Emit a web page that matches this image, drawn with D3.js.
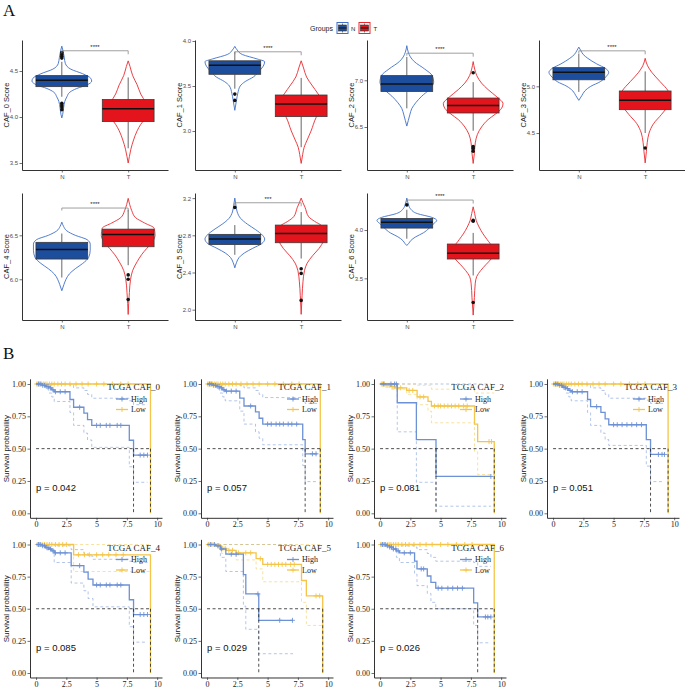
<!DOCTYPE html>
<html><head><meta charset="utf-8">
<script src="https://cdn.jsdelivr.net/npm/d3@7"></script>
<style>body{margin:0;background:#fff}svg{display:block}</style>
</head><body><svg id="c" width="685" height="690"></svg>
<script>
// ---------------- DATA: panel A ----------------
const groupNames = ["N", "T"];
const cafLabels = ["CAF_0", "CAF_1", "CAF_2", "CAF_3", "CAF_4", "CAF_5", "CAF_6"];
const sigMarks = ["****", "****", "****", "****", "****", "***", "****"];
const bracketLevels = [4.72, 3.88, 7.29, 5.38, 6.81, 3.15, 4.31];
const scoreTicks = [[3.5, 4.0, 4.5], [3.0, 3.5, 4.0], [6.5, 7.0], [4.5, 5.0], [6.0, 6.5], [2.0, 2.4, 2.8, 3.2], [3.5, 4.0]];
const scoreLimits = [[3.424, 4.837], [2.567, 4.011], [6.040, 7.431], [4.104, 5.496], [5.537, 6.981], [1.889, 3.255], [3.069, 4.383]];
// [lower whisker, Q1, median, Q3, upper whisker]
const boxStatsN = [[4.22, 4.33, 4.40, 4.45, 4.60], [3.47, 3.63, 3.73, 3.78, 3.88], [6.70, 6.88, 6.96, 7.05, 7.25], [4.94, 5.07, 5.15, 5.20, 5.35], [6.02, 6.23, 6.34, 6.42, 6.52], [2.59, 2.70, 2.76, 2.81, 2.91], [3.91, 4.02, 4.08, 4.12, 4.21]];
const boxStatsT = [[3.66, 3.95, 4.09, 4.19, 4.43], [2.82, 3.16, 3.30, 3.40, 3.59], [6.46, 6.65, 6.73, 6.81, 6.98], [4.50, 4.75, 4.85, 4.95, 5.16], [6.16, 6.37, 6.51, 6.57, 6.79], [2.55, 2.72, 2.82, 2.91, 3.05], [3.53, 3.70, 3.76, 3.855, 3.97]];
const outliersN = [[4.64, 4.66, 4.68, 4.70, 4.15, 4.13, 4.11, 4.08], [3.41, 3.34], [], [], [], [3.10], [4.26]];
const outliersT = [[], [], [7.08, 6.29, 6.27, 6.24], [4.34], [6.05, 6.00, 5.77], [2.44, 2.39, 2.10], [4.10, 4.09, 3.25]];
// violin profiles: [value, relative density]
const violinN = [
  [[4.77,0],[4.72,0.04],[4.65,0.08],[4.58,0.12],[4.52,0.3],[4.47,0.7],[4.42,0.97],[4.39,1.0],[4.35,0.85],[4.31,0.5],[4.27,0.27],[4.22,0.17],[4.17,0.1],[4.1,0.06],[4.03,0.03],[3.99,0]],
  [[3.94,0],[3.9,0.08],[3.85,0.25],[3.8,0.75],[3.77,1.0],[3.72,0.95],[3.66,0.8],[3.6,0.62],[3.55,0.35],[3.5,0.18],[3.42,0.1],[3.35,0.06],[3.23,0]],
  [[7.37,0],[7.3,0.05],[7.25,0.12],[7.2,0.25],[7.12,0.6],[7.05,0.85],[6.98,0.9],[6.9,0.75],[6.83,0.5],[6.76,0.3],[6.7,0.17],[6.63,0.1],[6.57,0.05],[6.51,0]],
  [[5.42,0],[5.38,0.07],[5.34,0.15],[5.3,0.3],[5.24,0.6],[5.19,0.9],[5.15,1.0],[5.1,0.9],[5.05,0.72],[5.0,0.4],[4.95,0.2],[4.9,0.1],[4.85,0]],
  [[6.65,0],[6.6,0.06],[6.55,0.17],[6.5,0.45],[6.45,0.85],[6.4,0.95],[6.33,0.95],[6.25,0.9],[6.18,0.7],[6.12,0.45],[6.06,0.25],[6.0,0.14],[5.94,0.07],[5.87,0]],
  [[3.2,0],[3.12,0.04],[3.05,0.08],[2.98,0.2],[2.92,0.42],[2.86,0.7],[2.8,0.93],[2.76,1.0],[2.71,0.9],[2.66,0.6],[2.61,0.32],[2.56,0.14],[2.51,0.06],[2.45,0]],
  [[4.33,0],[4.27,0.05],[4.22,0.12],[4.17,0.35],[4.13,0.85],[4.1,1.0],[4.06,0.88],[4.02,0.75],[3.97,0.55],[3.93,0.3],[3.89,0.13],[3.86,0.06],[3.84,0]]
];
const violinT = [
  [[4.61,0],[4.55,0.06],[4.45,0.15],[4.35,0.3],[4.25,0.42],[4.15,0.6],[4.07,0.7],[4.0,0.6],[3.92,0.42],[3.85,0.3],[3.75,0.18],[3.65,0.09],[3.57,0.04],[3.5,0]],
  [[3.78,0],[3.7,0.08],[3.6,0.18],[3.5,0.38],[3.42,0.55],[3.33,0.7],[3.25,0.68],[3.15,0.5],[3.0,0.33],[2.9,0.2],[2.82,0.1],[2.74,0.05],[2.64,0]],
  [[7.2,0],[7.12,0.05],[7.05,0.12],[6.97,0.28],[6.9,0.5],[6.82,0.8],[6.75,1.0],[6.7,0.95],[6.64,0.75],[6.58,0.5],[6.5,0.28],[6.42,0.14],[6.33,0.07],[6.22,0.04],[6.11,0]],
  [[5.3,0],[5.22,0.08],[5.15,0.22],[5.05,0.5],[4.95,0.77],[4.87,0.85],[4.8,0.78],[4.7,0.55],[4.6,0.28],[4.5,0.13],[4.4,0.07],[4.3,0.04],[4.18,0]],
  [[6.92,0],[6.85,0.05],[6.78,0.12],[6.7,0.25],[6.64,0.55],[6.58,0.87],[6.5,0.9],[6.42,0.8],[6.35,0.62],[6.28,0.45],[6.2,0.3],[6.1,0.15],[6.0,0.08],[5.85,0.04],[5.6,0]],
  [[3.2,0],[3.15,0.06],[3.1,0.13],[3.0,0.25],[2.95,0.45],[2.9,0.7],[2.82,0.8],[2.74,0.75],[2.66,0.6],[2.58,0.38],[2.5,0.2],[2.42,0.11],[2.3,0.06],[2.15,0.03],[1.95,0]],
  [[4.24,0],[4.17,0.05],[4.1,0.1],[4.03,0.2],[3.96,0.33],[3.9,0.47],[3.82,0.65],[3.76,0.7],[3.7,0.6],[3.64,0.42],[3.58,0.25],[3.52,0.12],[3.45,0.07],[3.3,0.04],[3.12,0]]
];

// ---------------- DATA: panel B ----------------
const kmTitles = ["TCGA CAF_0", "TCGA CAF_1", "TCGA CAF_2", "TCGA CAF_3", "TCGA CAF_4", "TCGA CAF_5", "TCGA CAF_6"];
const kmPvalues = ["p = 0.042", "p = 0.057", "p = 0.081", "p = 0.051", "p = 0.085", "p = 0.029", "p = 0.026"];
const kmLegend = ["High", "Low"];
const kmTimeTicks = [0, 2.5, 5, 7.5, 10];
const kmProbTicks = [0, 0.25, 0.5, 0.75, 1];
// step curves: [time, survival]
const highCurves = [
  [[0,1],[0.5,0.99],[0.8,0.98],[1.05,0.97],[1.3,0.955],[1.5,0.94],[2.8,0.88],[3.1,0.82],[3.95,0.775],[4.25,0.725],[4.6,0.68],[7.7,0.565],[8.05,0.45],[9.2,0.45]],
  [[0,1],[0.5,0.99],[0.8,0.98],[1.05,0.97],[1.3,0.955],[1.5,0.945],[2.7,0.89],[3.05,0.83],[4.0,0.785],[4.3,0.735],[4.6,0.69],[7.9,0.57],[8.1,0.46],[9.1,0.46]],
  [[0,1],[1.42,0.855],[3.0,0.57],[4.62,0.285],[9.15,0.285]],
  [[0,1],[0.5,0.99],[0.8,0.975],[1.05,0.965],[1.3,0.95],[1.5,0.94],[2.85,0.88],[3.1,0.825],[3.95,0.78],[4.3,0.73],[4.6,0.685],[7.7,0.57],[8.05,0.455],[9.2,0.455]],
  [[0,1],[0.5,0.99],[0.8,0.975],[1.05,0.965],[1.3,0.95],[1.5,0.935],[2.9,0.835],[3.95,0.785],[4.3,0.73],[4.7,0.685],[7.7,0.57],[8.05,0.455],[9.2,0.455]],
  [[0,1],[0.7,0.99],[1.1,0.965],[1.55,0.925],[3.0,0.765],[3.2,0.615],[4.27,0.41],[7.1,0.41]],
  [[0,1],[0.5,0.99],[0.8,0.98],[1.1,0.965],[1.35,0.95],[1.6,0.935],[2.85,0.87],[3.05,0.81],[3.9,0.755],[4.2,0.705],[4.6,0.66],[7.73,0.545],[8.06,0.436],[9.15,0.436]]
];
const lowCurves = [
  [[0,1],[9.45,0]],
  [[0,1],[9.35,0]],
  [[0,1],[0.5,0.99],[0.9,0.98],[1.2,0.97],[2.2,0.95],[3.06,0.90],[3.96,0.865],[4.24,0.83],[7.8,0.69],[8.06,0.555],[9.43,0]],
  [[0,1],[9.5,0]],
  [[0,1],[3.1,0.92],[9.45,0]],
  [[0,1],[0.8,0.99],[1.2,0.97],[1.6,0.955],[2.4,0.935],[4.05,0.89],[4.6,0.845],[7.8,0.72],[8.2,0.60],[9.55,0]],
  [[0,1],[9.43,0]]
];
const highCensors = [
  [0.2,0.35,0.55,0.7,0.9,1.0,1.2,1.4,1.6,2.0,2.4,3.6,5.0,5.3,5.8,6.1,6.7,7.0,8.6,8.9,9.2],
  [0.2,0.35,0.55,0.7,0.9,1.0,1.2,1.4,1.6,2.0,2.4,3.6,5.0,5.3,5.7,6.0,6.3,6.7,7.0,7.4,8.7,9.0],
  [0.3,0.9,1.2,1.35,9.15],
  [0.2,0.35,0.55,0.7,0.9,1.0,1.2,1.4,1.6,2.0,2.4,3.6,5.0,5.3,5.7,6.1,6.5,6.9,7.3,8.7,9.0,9.2],
  [0.2,0.35,0.55,0.7,0.9,1.0,1.2,1.4,1.6,2.0,2.4,3.6,5.0,5.3,5.8,6.1,6.7,7.0,8.6,8.9,9.2],
  [0.3,0.6,0.9,1.2,2.0,2.4,4.2,6.0,7.05],
  [0.2,0.4,0.6,0.8,0.95,1.1,1.3,1.5,2.0,2.5,3.4,3.6,4.8,5.1,5.6,6.0,6.4,6.8,8.7,8.9,9.15]
];
const lowCensors = [
  [0.05,0.15,0.3,0.45,0.6,0.75,0.9,1.1,1.3,1.5,1.8,2.1,2.4,2.8,3.3,3.8,4.3,5.0,5.6,6.3,7.0,7.6],
  [0.05,0.15,0.3,0.45,0.6,0.75,0.9,1.1,1.3,1.5,1.8,2.1,2.4,2.8,3.3,3.8,4.3,5.0,5.6,6.3,7.0,7.6],
  [0.1,0.2,0.35,0.5,0.65,0.8,1.0,1.15,1.4,1.7,2.4,2.7,3.3,3.6,4.5,4.8,5.0,5.3,5.6,5.9,6.2,6.5,6.9,7.2,9.0,9.2],
  [0.05,0.15,0.3,0.45,0.6,0.75,0.9,1.1,1.3,1.5,1.8,2.1,2.4,2.8,3.3,3.8,4.3,5.0,5.6,6.3,7.0,7.6],
  [0.1,0.3,0.5,0.7,0.9,1.1,1.3,1.6,1.9,2.2,2.5,3.5,4.0,4.4,5.0,5.5,6.0,6.6,7.2],
  [0.1,0.25,0.4,0.6,0.9,1.0,1.3,1.5,1.8,2.1,2.6,3.2,3.6,4.4,5.0,5.3,5.6,5.9,6.2,6.5,6.9,7.2,9.0,9.3],
  [0.05,0.15,0.3,0.45,0.6,0.75,0.9,1.1,1.3,1.5,1.8,2.1,2.4,2.8,3.3,3.8,4.3,5.0,5.6,6.3,7.0,7.6]
];
const highUpperCI = [
  [[0,1],[2.8,0.99],[3.1,0.97],[3.95,0.95],[4.25,0.92],[4.6,0.89],[7.7,0.87],[8.05,0.84],[9.2,0.84]],
  [[0,1],[2.7,0.99],[3.05,0.97],[4.0,0.95],[4.3,0.92],[4.6,0.895],[7.9,0.875],[8.1,0.85],[9.1,0.85]],
  [[0,1],[9.15,1]],
  [[0,1],[2.85,0.99],[3.1,0.97],[3.95,0.95],[4.3,0.92],[4.6,0.89],[7.7,0.875],[8.05,0.85],[9.2,0.85]],
  [[0,1],[1.5,0.99],[2.9,0.96],[3.95,0.93],[4.3,0.91],[4.7,0.885],[7.7,0.87],[8.05,0.86],[9.2,0.86]],
  [[0,1],[7.1,1]],
  [[0,1],[1.6,0.99],[2.85,0.98],[3.05,0.96],[3.9,0.93],[4.2,0.9],[4.6,0.87],[7.73,0.86],[8.06,0.83],[9.15,0.83]]
];
const highLowerCI = [
  [[0,1],[0.8,0.96],[1.05,0.93],[1.3,0.9],[1.5,0.865],[2.8,0.78],[3.1,0.68],[3.95,0.62],[4.25,0.567],[4.6,0.51],[7.7,0.36],[8.05,0.24],[9.2,0.24]],
  [[0,1],[0.8,0.96],[1.05,0.93],[1.3,0.9],[1.5,0.87],[2.7,0.79],[3.05,0.69],[4.0,0.63],[4.3,0.58],[4.6,0.53],[7.9,0.37],[8.1,0.245],[9.1,0.245]],
  [[0,1],[1.42,0.63],[3.0,0.24],[4.62,0.055],[9.15,0.055]],
  [[0,1],[0.8,0.96],[1.05,0.93],[1.3,0.9],[1.5,0.87],[2.85,0.78],[3.1,0.68],[3.95,0.62],[4.3,0.57],[4.6,0.525],[7.7,0.365],[8.05,0.245],[9.2,0.245]],
  [[0,1],[0.8,0.96],[1.5,0.86],[2.9,0.7],[3.95,0.64],[4.3,0.58],[4.7,0.515],[7.7,0.36],[8.05,0.24],[9.2,0.24]],
  [[0,1],[1.1,0.9],[1.55,0.79],[3.0,0.52],[3.2,0.34],[4.27,0.15],[7.1,0.15]],
  [[0,1],[0.8,0.96],[1.35,0.9],[1.6,0.86],[2.85,0.77],[3.05,0.68],[3.9,0.62],[4.2,0.55],[4.6,0.5],[7.73,0.37],[8.06,0.235],[9.15,0.235]]
];
const lowUpperCI = [[], [], [[0,1],[3.06,0.99],[4.24,0.96],[7.8,0.93],[9.43,0.93]], [], [[0,1],[9.45,1]], [[0,1],[9.55,1]], []];
const lowLowerCI = [[], [], [[0,1],[0.9,0.96],[2.2,0.92],[3.06,0.84],[3.96,0.79],[4.24,0.70],[7.8,0.48],[8.06,0.30],[9.43,0.30]], [], [[0,1],[3.1,0.79],[9.45,0.79]], [[0,1],[1.2,0.93],[2.4,0.88],[4.05,0.81],[4.6,0.71],[7.8,0.55],[8.2,0.37],[9.55,0.37]], []];

// ---------------- DRAWING ----------------
const svg = d3.select("#c");
const SANS = "'Liberation Sans', Arial, sans-serif";
const SERIF = "'Liberation Serif', 'Times New Roman', serif";
const fillN = "#1d4e9d", fillT = "#e3141c", lineN = "#3f6fc8", lineT = "#ea2a30";
const axisCol = "#333333";

svg.append("text").attr("x", 3).attr("y", 16).text("A")
  .style("font-family", SERIF).style("font-size", "17px").attr("fill", "#111");
svg.append("text").attr("x", 3).attr("y", 359).text("B")
  .style("font-family", SERIF).style("font-size", "17px").attr("fill", "#111");

// Legend (Groups)
const lg = svg.append("g");
lg.append("text").attr("x", 310).attr("y", 31).text("Groups")
  .style("font-family", SANS).style("font-size", "7px").attr("fill", "#222");
[[337, fillN, lineN, 351, groupNames[0]], [359, fillT, lineT, 373.5, groupNames[1]]].forEach(([kx, f, l, tx, lab]) => {
  lg.append("rect").attr("x", kx).attr("y", 22.5).attr("width", 11).attr("height", 11).attr("fill", "#fff").attr("stroke", l).attr("stroke-width", 1);
  lg.append("line").attr("x1", kx + 5.5).attr("x2", kx + 5.5).attr("y1", 23.5).attr("y2", 32.5).attr("stroke", "#333").attr("stroke-width", 0.6);
  lg.append("rect").attr("x", kx + 1.5).attr("y", 25).attr("width", 8).attr("height", 6).attr("fill", f).attr("stroke", "#333").attr("stroke-width", 0.6);
  lg.append("line").attr("x1", kx + 1.5).attr("x2", kx + 9.5).attr("y1", 28).attr("y2", 28).attr("stroke", "#111").attr("stroke-width", 1);
  lg.append("text").attr("x", tx).attr("y", 30.5).text(lab).style("font-family", SANS).style("font-size", "6px").attr("fill", "#222");
});

const colAx = [22, 195, 367, 539];
const rowsA = [[40, 170], [193, 320]];
cafLabels.forEach((name, i) => {
  const r = Math.floor(i / 4), c = i % 4;
  const ax = colAx[c], top = rowsA[r][0], bottom = rowsA[r][1];
  const x = d3.scaleLinear().domain([0.4, 2.6]).range([ax, ax + 146]);
  const y = d3.scaleLinear().domain(scoreLimits[i]).range([bottom, top]);
  const g = svg.append("g");
  const unit = x(1) - x(0);

  const ya = g.append("g").attr("transform", `translate(${ax},0)`)
    .call(d3.axisLeft(y).tickValues(scoreTicks[i]).tickSize(2.5).tickSizeOuter(0).tickPadding(1.5).tickFormat(d3.format(".1f")));
  const xa = g.append("g").attr("transform", `translate(0,${bottom})`)
    .call(d3.axisBottom(x).tickValues([1, 2]).tickSize(2.5).tickSizeOuter(0).tickPadding(2).tickFormat(d => groupNames[d - 1]));
  [ya, xa].forEach(a => {
    a.select(".domain").attr("stroke", axisCol).attr("stroke-width", 1);
    a.selectAll(".tick line").attr("stroke", axisCol).attr("stroke-width", 0.7);
    a.selectAll(".tick text").style("font-family", SANS).style("font-size", "6px").attr("fill", "#4d4d4d");
  });
  g.append("text").attr("transform", `translate(${ax - 16},${(top + bottom) / 2}) rotate(-90)`)
    .attr("text-anchor", "middle").attr("dy", "0.35em").text(name + " Score")
    .style("font-family", SANS).style("font-size", "7.5px").attr("fill", "#222");

  const H = 0.45 * unit;
  const groups = [
    { pos: 1, viol: violinN[i], box: boxStatsN[i], out: outliersN[i], fill: fillN, line: lineN },
    { pos: 2, viol: violinT[i], box: boxStatsT[i], out: outliersT[i], fill: fillT, line: lineT }
  ];
  groups.forEach(gr => {
    const cx = x(gr.pos);
    const area = d3.area().y(d => y(d[0])).x0(d => cx - d[1] * H).x1(d => cx + d[1] * H).curve(d3.curveMonotoneY);
    g.append("path").attr("d", area(gr.viol)).attr("fill", "none").attr("stroke", gr.line).attr("stroke-width", 0.9);
  });
  groups.forEach(gr => {
    const cx = x(gr.pos), bw = 0.39 * unit;
    const [lw, q1, med, q3, uw] = gr.box;
    g.append("line").attr("x1", cx).attr("x2", cx).attr("y1", y(uw)).attr("y2", y(q3)).attr("stroke", "#555").attr("stroke-width", 0.9);
    g.append("line").attr("x1", cx).attr("x2", cx).attr("y1", y(q1)).attr("y2", y(lw)).attr("stroke", "#555").attr("stroke-width", 0.9);
    g.append("rect").attr("x", cx - bw).attr("width", 2 * bw).attr("y", y(q3)).attr("height", y(q1) - y(q3))
      .attr("fill", gr.fill).attr("stroke", "#3a3a3a").attr("stroke-width", 0.8);
    g.append("line").attr("x1", cx - bw).attr("x2", cx + bw).attr("y1", y(med)).attr("y2", y(med)).attr("stroke", "#111").attr("stroke-width", 1.5);
    gr.out.forEach(o => g.append("circle").attr("cx", cx).attr("cy", y(o)).attr("r", 1.8).attr("fill", "#111"));
  });
  const by = y(bracketLevels[i]);
  g.append("path").attr("d", `M${x(1)},${by + 2.5}V${by}H${x(2)}V${by + 3.5}`)
    .attr("fill", "none").attr("stroke", "#888").attr("stroke-width", 0.8);
  g.append("text").attr("x", (x(1) + x(2)) / 2).attr("y", by - 2).attr("text-anchor", "middle").text(sigMarks[i])
    .style("font-family", SANS).style("font-size", "6px").attr("fill", "#222");
});

// ---------------- Panel B: KM ----------------
const colB = [30, 201, 374, 547];
const rowsB = [[384, 513.3], [544.5, 673]];
const colHigh = "#6d91d5", colLow = "#f4c548";
function stepValue(curve, t) {
  let s = curve[0][1];
  for (const p of curve) { if (p[0] <= t) s = p[1]; else break; }
  return s;
}
function medianTime(curve) {
  const p = curve.find(d => d[1] <= 0.5);
  return p ? p[0] : null;
}
kmTitles.forEach((title, i) => {
  const r = Math.floor(i / 4), c = i % 4;
  const ax = colB[c], y1 = rowsB[r][0], y0 = rowsB[r][1], span = y0 - y1;
  const x = d3.scaleLinear().domain([-0.5, 10.4]).range([ax, ax + 132]);
  const y = d3.scaleLinear().domain([-0.035, 1.04]).range([y0 + 0.035 * span, y1 - 0.04 * span]);
  const g = svg.append("g");
  const ya = g.append("g").attr("transform", `translate(${ax},0)`)
    .call(d3.axisLeft(y).tickValues(kmProbTicks).tickSize(2.5).tickSizeOuter(0).tickPadding(1.5).tickFormat(d3.format(".2f")));
  const xa = g.append("g").attr("transform", `translate(0,${y(-0.035)})`)
    .call(d3.axisBottom(x).tickValues(kmTimeTicks).tickSize(2.5).tickSizeOuter(0).tickPadding(1).tickFormat(d => d));
  [ya, xa].forEach(a => {
    a.select(".domain").attr("stroke", axisCol).attr("stroke-width", 1);
    a.selectAll(".tick line").attr("stroke", axisCol).attr("stroke-width", 0.7);
    a.selectAll(".tick text").style("font-family", SERIF).style("font-size", "8px").attr("fill", "#222");
  });
  g.append("text").attr("transform", `translate(${ax - 24},${y(0.5)}) rotate(-90)`)
    .attr("text-anchor", "middle").attr("dy", "0.35em").text("Survival probability")
    .style("font-family", SANS).style("font-size", "8px").attr("fill", "#222");

  const step = d3.line().x(d => x(d[0])).y(d => y(d[1])).curve(d3.curveStepAfter);
  [[highUpperCI[i], colHigh], [highLowerCI[i], colHigh], [lowUpperCI[i], colLow], [lowLowerCI[i], colLow]].forEach(([ci, col]) => {
    if (ci.length) g.append("path").attr("d", step(ci)).attr("fill", "none").attr("stroke", col)
      .attr("stroke-opacity", 0.65).attr("stroke-width", 0.8).attr("stroke-dasharray", "3,2.5");
  });
  [[lowCurves[i], lowCensors[i], colLow], [highCurves[i], highCensors[i], colHigh]].forEach(([cv, cens, col]) => {
    g.append("path").attr("d", step(cv)).attr("fill", "none").attr("stroke", col).attr("stroke-width", 1.3);
    cens.forEach(t => {
      const px = x(t), py = y(stepValue(cv, t));
      g.append("path").attr("d", `M${px - 2.5},${py}h5M${px},${py - 2.5}v5`).attr("stroke", col).attr("stroke-width", 0.9);
    });
  });
  const meds = [medianTime(highCurves[i]), medianTime(lowCurves[i])].filter(m => m !== null);
  const dash = "3,2.5";
  g.append("line").attr("x1", x(0)).attr("x2", x(d3.max(meds))).attr("y1", y(0.5)).attr("y2", y(0.5))
    .attr("stroke", "#222").attr("stroke-width", 0.8).attr("stroke-dasharray", dash);
  meds.forEach(m => g.append("line").attr("x1", x(m)).attr("x2", x(m)).attr("y1", y(0.5)).attr("y2", y(0))
    .attr("stroke", "#222").attr("stroke-width", 0.8).attr("stroke-dasharray", dash));

  g.append("text").attr("x", x(0)).attr("y", y(0.2)).attr("dy", "0.35em").text(kmPvalues[i])
    .style("font-family", SANS).style("font-size", "9.5px").attr("fill", "#111");
  g.append("text").attr("x", ax + 130).attr("y", y(1) + 3).attr("dy", "0.35em").attr("text-anchor", "end").text(title)
    .style("font-family", SERIF).style("font-size", "9px").attr("fill", "#222");
  [[colHigh, kmLegend[0], 15], [colLow, kmLegend[1], 25.5]].forEach(([col, lab, off]) => {
    const ky = y(1) + off;
    g.append("line").attr("x1", ax + 86).attr("x2", ax + 98).attr("y1", ky).attr("y2", ky).attr("stroke", col).attr("stroke-width", 1.3);
    g.append("path").attr("d", `M${ax + 89.5},${ky}h5M${ax + 92},${ky - 2.5}v5`).attr("stroke", col).attr("stroke-width", 0.9);
    g.append("text").attr("x", ax + 101).attr("y", ky).attr("dy", "0.35em").text(lab)
      .style("font-family", SERIF).style("font-size", "8px").attr("fill", "#222");
  });
});
</script></body></html>
